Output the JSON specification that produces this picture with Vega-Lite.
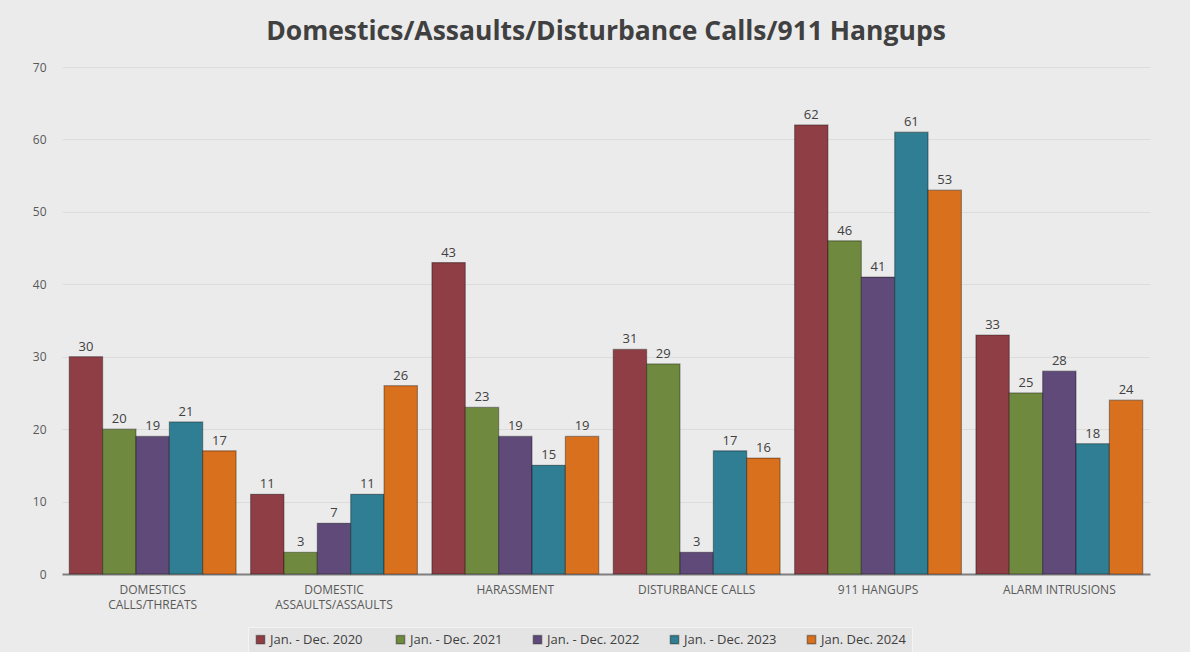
{
  "$schema": "https://vega.github.io/schema/vega-lite/v6.json",
  "width": 1088,
  "height": 507,
  "autosize": {"type": "none"},
  "padding": {"left": 62, "top": 67, "right": 40, "bottom": 78},
  "background": "#ebebeb",
  "title": {
    "text": "Domestics/Assaults/Disturbance Calls/911 Hangups",
    "fontSize": 26.5,
    "font": "Open Sans",
    "fontWeight": "bold",
    "color": "#404040",
    "offset": 16,
    "anchor": "middle"
  },
  "config": {
    "view": {"stroke": null},
    "font": "Open Sans"
  },
  "data": {
    "values": [
      {"category": "DOMESTICS|CALLS/THREATS", "period": "Jan.  - Dec. 2020", "calls": 30},
      {"category": "DOMESTICS|CALLS/THREATS", "period": "Jan. - Dec. 2021", "calls": 20},
      {"category": "DOMESTICS|CALLS/THREATS", "period": "Jan. - Dec. 2022", "calls": 19},
      {"category": "DOMESTICS|CALLS/THREATS", "period": "Jan. - Dec. 2023", "calls": 21},
      {"category": "DOMESTICS|CALLS/THREATS", "period": "Jan. Dec. 2024", "calls": 17},
      {"category": "DOMESTIC|ASSAULTS/ASSAULTS", "period": "Jan.  - Dec. 2020", "calls": 11},
      {"category": "DOMESTIC|ASSAULTS/ASSAULTS", "period": "Jan. - Dec. 2021", "calls": 3},
      {"category": "DOMESTIC|ASSAULTS/ASSAULTS", "period": "Jan. - Dec. 2022", "calls": 7},
      {"category": "DOMESTIC|ASSAULTS/ASSAULTS", "period": "Jan. - Dec. 2023", "calls": 11},
      {"category": "DOMESTIC|ASSAULTS/ASSAULTS", "period": "Jan. Dec. 2024", "calls": 26},
      {"category": "HARASSMENT", "period": "Jan.  - Dec. 2020", "calls": 43},
      {"category": "HARASSMENT", "period": "Jan. - Dec. 2021", "calls": 23},
      {"category": "HARASSMENT", "period": "Jan. - Dec. 2022", "calls": 19},
      {"category": "HARASSMENT", "period": "Jan. - Dec. 2023", "calls": 15},
      {"category": "HARASSMENT", "period": "Jan. Dec. 2024", "calls": 19},
      {"category": "DISTURBANCE CALLS", "period": "Jan.  - Dec. 2020", "calls": 31},
      {"category": "DISTURBANCE CALLS", "period": "Jan. - Dec. 2021", "calls": 29},
      {"category": "DISTURBANCE CALLS", "period": "Jan. - Dec. 2022", "calls": 3},
      {"category": "DISTURBANCE CALLS", "period": "Jan. - Dec. 2023", "calls": 17},
      {"category": "DISTURBANCE CALLS", "period": "Jan. Dec. 2024", "calls": 16},
      {"category": "911 HANGUPS", "period": "Jan.  - Dec. 2020", "calls": 62},
      {"category": "911 HANGUPS", "period": "Jan. - Dec. 2021", "calls": 46},
      {"category": "911 HANGUPS", "period": "Jan. - Dec. 2022", "calls": 41},
      {"category": "911 HANGUPS", "period": "Jan. - Dec. 2023", "calls": 61},
      {"category": "911 HANGUPS", "period": "Jan. Dec. 2024", "calls": 53},
      {"category": "ALARM INTRUSIONS", "period": "Jan.  - Dec. 2020", "calls": 33},
      {"category": "ALARM INTRUSIONS", "period": "Jan. - Dec. 2021", "calls": 25},
      {"category": "ALARM INTRUSIONS", "period": "Jan. - Dec. 2022", "calls": 28},
      {"category": "ALARM INTRUSIONS", "period": "Jan. - Dec. 2023", "calls": 18},
      {"category": "ALARM INTRUSIONS", "period": "Jan. Dec. 2024", "calls": 24}
    ]
  },
  "encoding": {
    "x": {
      "field": "category",
      "type": "nominal",
      "sort": null,
      "scale": {"paddingInner": 0.08, "paddingOuter": 0.04},
      "axis": {
        "title": null,
        "labelAngle": 0,
        "labelExpr": "split(datum.label, '|')",
        "labelFontSize": 12,
        "labelColor": "#595959",
        "labelPadding": 10,
        "labelLineHeight": 15,
        "ticks": false,
        "domainColor": "#7f7f7f",
        "domainWidth": 2
      }
    },
    "xOffset": {"field": "period", "type": "nominal", "sort": null},
    "y": {
      "field": "calls",
      "type": "quantitative",
      "scale": {"domain": [0, 70]},
      "axis": {
        "title": null,
        "values": [0, 10, 20, 30, 40, 50, 60, 70],
        "labelFontSize": 12,
        "labelColor": "#595959",
        "labelPadding": 16,
        "ticks": false,
        "domain": false,
        "gridColor": "#dcdcdc"
      }
    }
  },
  "layer": [
    {
      "mark": {"type": "bar", "stroke": "#00000055", "strokeWidth": 1.2},
      "encoding": {
        "color": {
          "field": "period",
          "type": "nominal",
          "sort": null,
          "scale": {
            "domain": ["Jan.  - Dec. 2020", "Jan. - Dec. 2021", "Jan. - Dec. 2022", "Jan. - Dec. 2023", "Jan. Dec. 2024"],
            "range": ["#8e3e44", "#6f8a3f", "#5f4a7a", "#2f7e93", "#d9701e"]
          },
          "legend": {
            "title": null,
            "orient": "none",
            "direction": "horizontal",
            "legendX": 186,
            "legendY": 560,
            "symbolType": "square",
            "symbolSize": 70,
            "labelFontSize": 13,
            "labelColor": "#404040",
            "columnPadding": 27,
            "fillColor": "#e4e4e4",
            "strokeColor": "#f4f4f4",
            "padding": 6,
            "labelOffset": 3
          }
        }
      }
    },
    {
      "mark": {"type": "text", "dy": -10, "fontSize": 13, "color": "#404040"},
      "encoding": {
        "text": {"field": "calls", "type": "quantitative"}
      }
    }
  ]
}
